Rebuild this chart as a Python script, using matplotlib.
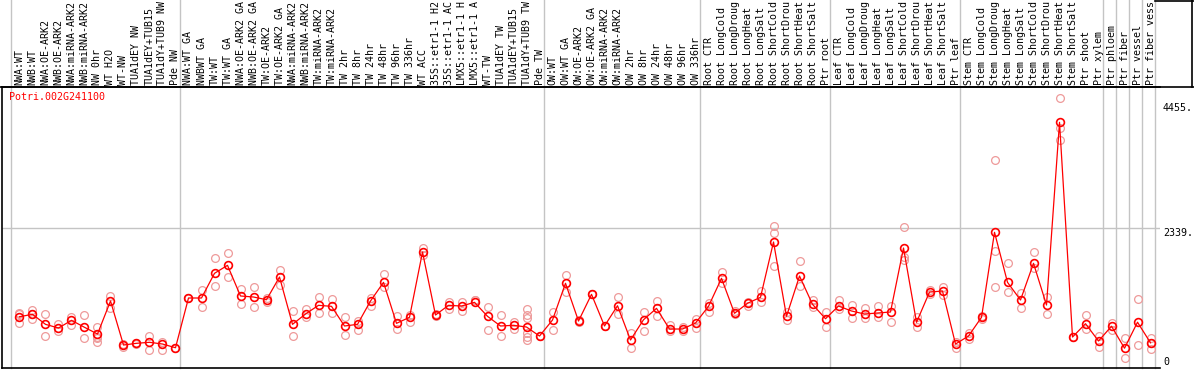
import matplotlib
matplotlib.use("Agg")
import matplotlib.pyplot as plt
from matplotlib.lines import Line2D
import numpy as np

gene = "Potri.002G241100"

grp_nw = ["NWA:WT", "NWB:WT", "NWA:OE-ARK2", "NWB:OE-ARK2", "NWA:miRNA-ARK2", "NWB:miRNA-ARK2",
          "NW 0hr", "WT H2O", "WT-NW", "TUA1dEY NW", "TUA1dEY+TUB15", "TUA1dY+TUB9 NW", "Pde NW"]
grp_tw = ["NWA:WT GA", "NWBWT GA", "TW:WT", "TW:WT GA", "NWA:OE-ARK2 GA", "NWB:OE-ARK2 GA",
          "TW:OE-ARK2", "TW:OE-ARK2 GA", "NWA:miRNA-ARK2", "NWB:miRNA-ARK2", "TW:miRNA-ARK2",
          "TW:miRNA-ARK2", "TW 2hr", "TW 8hr", "TW 24hr", "TW 48hr", "TW 96hr", "TW 336hr",
          "WT ACC", "35S::etr1-1 H2", "35S::etr1-1 AC", "LMX5::etr1-1 H", "LMX5::etr1-1 A",
          "WT-TW", "TUA1dEY TW", "TUA1dEY+TUB15", "TUA1dY+TUB9 TW", "Pde TW"]
grp_ow = ["OW:WT", "OW:WT GA", "OW:OE-ARK2", "OW:OE-ARK2 GA", "OW:miRNA-ARK2", "OW:miRNA-ARK2",
          "OW 2hr", "OW 8hr", "OW 24hr", "OW 48hr", "OW 96hr", "OW 336hr"]
grp_root = ["Root CTR", "Root LongCold", "Root LongDroug", "Root LongHeat", "Root LongSalt",
            "Root ShortCold", "Root ShortDrou", "Root ShortHeat", "Root ShortSalt", "Ptr root"]
grp_leaf = ["Leaf CTR", "Leaf LongCold", "Leaf LongDroug", "Leaf LongHeat", "Leaf LongSalt",
            "Leaf ShortCold", "Leaf ShortDrou", "Leaf ShortHeat", "Leaf ShortSalt", "Ptr leaf"]
grp_stem = ["Stem CTR", "Stem LongCold", "Stem LongDroug", "Stem LongHeat", "Stem LongSalt",
            "Stem ShortCold", "Stem ShortDrou", "Stem ShortHeat", "Stem ShortSalt", "Ptr shoot",
            "Ptr xylem"]
grp_ptr = ["Ptr phloem", "Ptr fiber", "Ptr vessel", "Ptr fiber vess"]

groups = [grp_nw, grp_tw, grp_ow, grp_root, grp_leaf, grp_stem] + [[c] for c in grp_ptr]
categories = [c for g in groups for c in g]

means = [843, 884, 714, 652, 782, 664, 550, 1109, 364, 393, 410, 381, 318,
         1160, 1160, 1578, 1713, 1194, 1177, 1131, 1515, 714, 889, 1036, 1019, 686, 714, 1109,
         1425, 731, 833, 1938, 872, 1036, 1024, 1087, 850, 686, 698, 669, 516,
         787, 1409, 770, 1222, 686, 1029, 449, 792, 985, 635, 635, 736,
         1019, 1493, 901, 1070, 1172, 2108, 850, 1532, 1053, 809,
         1024, 940, 889, 906, 923, 2006, 748, 1261, 1278, 381,
         516, 833, 2272, 1425, 1126, 1747, 1041, 4134, 499, 725, 432,
         682, 310, 750, 401]

replicates = [
    [911, 884, 731], [957, 799, 884], [884, 516], [720, 596], [843, 703], [867, 483],
    [674, 420, 505, 477], [1194, 985], [376, 325], [403, 381], [516, 274], [420, 279], [318],
    [1160, 1160], [1295, 1002], [1832, 1358], [1916, 1510], [1312, 1058], [1341, 1002],
    [1160, 1092], [1634, 1380], [935, 516], [973, 833], [1172, 901], [1143, 901], [833, 533],
    [775, 623], [1165, 1024], [1566, 1351], [855, 630], [877, 758], [2001, 1888], [889, 855],
    [1092, 973], [1092, 945], [1126, 1126], [1012, 618], [867, 516], [758, 630],
    [973, 872, 816, 562, 505, 449], [516, 516],
    [928, 618], [1549, 1261], [787, 748], [1222, 1222], [686, 686], [1182, 884], [562, 318],
    [928, 601], [1109, 855], [703, 601], [664, 601], [809, 652],
    [1080, 928], [1600, 1409], [945, 884], [1097, 1024], [1283, 1087], [2379, 2255, 1701],
    [928, 787], [1786, 1368], [1126, 1002], [918, 664],
    [1126, 968], [1036, 816], [995, 826], [1024, 843], [1024, 758], [2357, 1859, 1803],
    [833, 664], [1290, 1230], [1341, 1210], [420, 318],
    [572, 460], [799, 850], [3496, 1960, 1341], [1747, 1261], [1239, 995], [1933, 1662],
    [1182, 884], [4541, 4033, 3835], [499, 499], [867, 630], [516, 335],
    [731, 618], [477, 139], [1143, 364], [477, 403, 291],
]

ytick_vals = [0, 2339, 4455]
ytick_text = ["0", "2339.", "4455."]

W, H = 1194, 370
fig = plt.figure(figsize=(W / 100, H / 100), dpi=100)
left_px, right_px, top_px, bot_px = 2, 1160, 87, 368
ax = fig.add_axes([left_px / W, (H - bot_px) / H, (right_px - left_px) / W, (bot_px - top_px) / H])

mono = "DejaVu Sans Mono"
fs = 7.2
grid_c = "#c4c4c4"

n = len(categories)
x = np.arange(n)
ax.set_xlim(-1.346, 87.73)
ax.set_ylim(-25, 4732)

# horizontal grid line
ax.axhline(2339, color=grid_c, lw=1, zorder=0)

# vertical group separators (extend into header)
ext = (bot_px - 0) / (bot_px - top_px)
bounds = [-1] + list(np.cumsum([len(g) for g in groups]) - 1)
for b in bounds:
    ax.axvline(b + 0.35, ymin=0, ymax=ext, color=grid_c, lw=1, clip_on=False, zorder=0)

# replicates
for i, reps in enumerate(replicates):
    ax.plot([i] * len(reps), reps, linestyle="none", marker="o", ms=5.6,
            mfc="none", mec="#ee9a9a", mew=0.9, zorder=2)

# mean line
ax.plot(x, means, color="#ff0000", lw=0.9, marker="o", ms=5.6, mfc="none",
        mec="#ff0000", mew=1.2, zorder=3)

# spines
for s in ["right"]:
    ax.spines[s].set_visible(False)
for s in ["left", "bottom", "top"]:
    ax.spines[s].set_color("black")
    ax.spines[s].set_linewidth(1.2)
ax.set_xticks([])
ax.set_yticks([])

# right-side value labels
ytr = ax.get_yaxis_transform()
xlab = (1163 - left_px) / (right_px - left_px)
for v, t in zip(ytick_vals, ytick_text):
    ax.text(xlab, v, t, transform=ytr, ha="left", va="bottom" if v == 0 else "top",
            fontsize=fs, family=mono, color="black", clip_on=False)

# header labels
xtr = ax.get_xaxis_transform()
for i, c in enumerate(categories):
    ax.text(i, 1 + 2 / (bot_px - top_px), c, transform=xtr, rotation=90, ha="center",
            va="bottom", fontsize=fs, family=mono, color="black", clip_on=False)

# gene label
ax.text(7 / (right_px - left_px) , 1 - 5 / (bot_px - top_px), gene, transform=ax.transAxes,
        ha="left", va="top", fontsize=fs, family=mono, color="#ff0000")

# header frame lines
fig.add_artist(Line2D([0, 1], [(H - top_px) / H] * 2, color="black", lw=1.2,
                      transform=fig.transFigure))
fig.add_artist(Line2D([1192 / W] * 2, [(H - top_px) / H, 1], color="black", lw=1.2,
                      transform=fig.transFigure))
fig.add_artist(Line2D([1155 / W, 1], [1 - 0.5 / H] * 2, color="black", lw=1.2,
                      transform=fig.transFigure))

fig.savefig("out.png", dpi=100, facecolor="white")
